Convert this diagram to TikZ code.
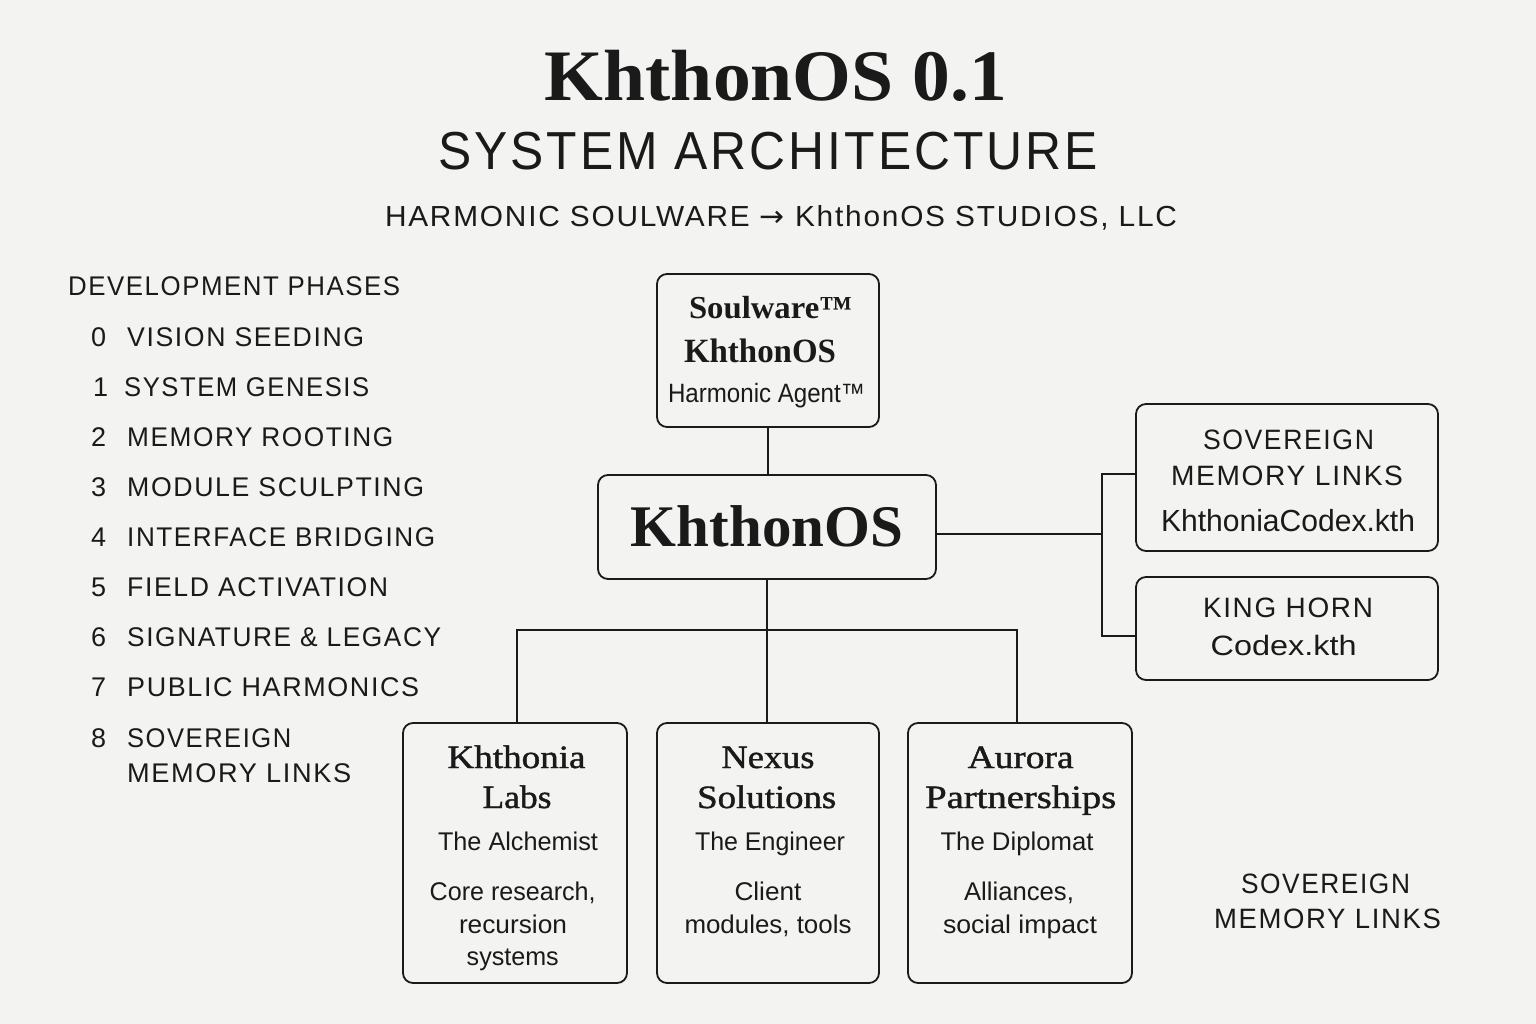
\documentclass[tikz,border=0pt]{standalone}
\usepackage{fontspec}
\usepackage{graphicx}
\setmainfont{Liberation Serif}
\newfontfamily\medserif[FakeBold=1.2]{Liberation Serif}
\newfontfamily\capsf[LetterSpace=6]{Liberation Sans}
\newfontfamily\plainsf{Liberation Sans}
\newfontfamily\symf{DejaVu Sans}
\definecolor{bgc}{HTML}{F3F3F1}
\definecolor{ink}{HTML}{1A1A1A}
\newcommand{\tx}[2]{\resizebox{#1pt}{\height}{#2}}
\newcommand{\fs}[1]{\fontsize{#1pt}{#1pt}\selectfont}
\tikzset{
  box/.style={draw=ink, line width=1.8pt, rounded corners=10pt, fill=bgc, inner sep=0pt},
  link/.style={draw=ink, line width=1.8pt},
  lbl/.style={anchor=base, inner sep=0pt, text=ink},
  lbll/.style={anchor=base west, inner sep=0pt, text=ink},
}
\begin{document}
\begin{tikzpicture}[x=1pt,y=-1pt]
\fill[bgc] (0,0) rectangle (1536,1024);
\useasboundingbox (0,0) rectangle (1536,1024);

% titles
\node[lbl] (title) at (776,101) {\fs{72.5}\bfseries\tx{462}{KhthonOS 0.1}};
\node[lbl] (sub1) at (768,170) {\fs{53.5}\capsf\tx{660}{SYSTEM ARCHITECTURE}};
\node[lbl] (sub2) at (781,227) {\fs{29}\capsf\tx{792}{HARMONIC SOULWARE {\symf→} KhthonOS STUDIOS, LLC}};

% left list
\node[lbll] (dev) at (68,295.5) {\fs{27}\capsf\tx{332}{DEVELOPMENT PHASES}};
\node[lbll] (n0) at (91,346) {\fs{27}\capsf 0};
\node[lbll] (p0) at (127,346) {\fs{27}\capsf\tx{237}{VISION SEEDING}};
\node[lbll] (n1) at (93,396) {\fs{27}\capsf 1};
\node[lbll] (p1) at (124,396) {\fs{27}\capsf\tx{245}{SYSTEM GENESIS}};
\node[lbll] (n2) at (91,446) {\fs{27}\capsf 2};
\node[lbll] (p2) at (127,446) {\fs{27}\capsf\tx{266}{MEMORY ROOTING}};
\node[lbll] (n3) at (91,496) {\fs{27}\capsf 3};
\node[lbll] (p3) at (127,496) {\fs{27}\capsf\tx{297}{MODULE SCULPTING}};
\node[lbll] (n4) at (91,546) {\fs{27}\capsf 4};
\node[lbll] (p4) at (127,546) {\fs{27}\capsf\tx{308}{INTERFACE BRIDGING}};
\node[lbll] (n5) at (91,596) {\fs{27}\capsf 5};
\node[lbll] (p5) at (127,596) {\fs{27}\capsf\tx{261}{FIELD ACTIVATION}};
\node[lbll] (n6) at (91,646) {\fs{27}\capsf 6};
\node[lbll] (p6) at (127,646) {\fs{27}\capsf\tx{314}{SIGNATURE \& LEGACY}};
\node[lbll] (n7) at (91,696) {\fs{27}\capsf 7};
\node[lbll] (p7) at (127,696) {\fs{27}\capsf\tx{292}{PUBLIC HARMONICS}};
\node[lbll] (n8) at (91,747) {\fs{27}\capsf 8};
\node[lbll] (p8) at (127,747) {\fs{27}\capsf\tx{164}{SOVEREIGN}};
\node[lbll] (p8b) at (127,782) {\fs{27}\capsf\tx{224}{MEMORY LINKS}};

% boxes
\node[box, minimum width=222pt, minimum height=153pt] (top) at (768,350.5) {};
\node[box, minimum width=338pt, minimum height=104pt] (core) at (767,527) {};
\node[box, minimum width=302pt, minimum height=147pt] (r1) at (1287,477.5) {};
\node[box, minimum width=302pt, minimum height=103pt] (r2) at (1287,628.5) {};
\node[box, minimum width=224pt, minimum height=260pt] (b1) at (515,853) {};
\node[box, minimum width=222pt, minimum height=260pt] (b2) at (768,853) {};
\node[box, minimum width=224pt, minimum height=260pt] (b3) at (1020,853) {};

% top box text
\node[lbl] (t1) at (770.5,318) {\fs{32}\bfseries\tx{163}{Soulware™}};
\node[lbl] (t2) at (760,362.5) {\fs{34}\bfseries\tx{152}{KhthonOS}};
\node[lbl] (t3) at (766.5,402.5) {\fs{26.5}\plainsf\tx{197}{Harmonic Agent™}};

% core text
\node[lbl] (c1) at (767,546) {\fs{59}\bfseries\tx{272}{KhthonOS}};

% right boxes text
\node[lbl] (r1a) at (1288.5,449) {\fs{28}\capsf\tx{171}{SOVEREIGN}};
\node[lbl] (r1b) at (1287,485.5) {\fs{28}\capsf\tx{232}{MEMORY LINKS}};
\node[lbl] (r1c) at (1288,531) {\fs{30.5}\plainsf\tx{254}{KhthoniaCodex.kth}};
\node[lbl] (r2a) at (1288,617.5) {\fs{28}\capsf\tx{170}{KING HORN}};
\node[lbl] (r2b) at (1283.7,655) {\fs{28}\plainsf\tx{146}{Codex.kth}};

% bottom boxes text
\node[lbl] (k1) at (516.5,768) {\fs{32.6}\medserif\tx{138}{Khthonia}};
\node[lbl] (k2) at (517,808) {\fs{32.6}\medserif\tx{69}{Labs}};
\node[lbl] (k3) at (518,850) {\fs{25.6}\plainsf\tx{160}{The Alchemist}};
\node[lbl] (k4) at (512.7,900) {\fs{25.6}\plainsf\tx{166}{Core research,}};
\node[lbl] (k5) at (513,933) {\fs{25.6}\plainsf\tx{108}{recursion}};
\node[lbl] (k6) at (512.7,965) {\fs{25.6}\plainsf\tx{92}{systems}};

\node[lbl] (x1) at (768,768) {\fs{32.6}\medserif\tx{93}{Nexus}};
\node[lbl] (x2) at (766.7,808) {\fs{32.6}\medserif\tx{139}{Solutions}};
\node[lbl] (x3) at (770,850) {\fs{25.6}\plainsf\tx{150}{The Engineer}};
\node[lbl] (x4) at (768,900) {\fs{25.6}\plainsf\tx{67}{Client}};
\node[lbl] (x5) at (768,933) {\fs{25.6}\plainsf\tx{167}{modules, tools}};

\node[lbl] (a1) at (1020.6,768) {\fs{32.6}\medserif\tx{106}{Aurora}};
\node[lbl] (a2) at (1020.7,808) {\fs{32.6}\medserif\tx{191}{Partnerships}};
\node[lbl] (a3) at (1017,850) {\fs{25.6}\plainsf\tx{153}{The Diplomat}};
\node[lbl] (a4) at (1019,900) {\fs{25.6}\plainsf\tx{110}{Alliances,}};
\node[lbl] (a5) at (1020,933) {\fs{25.6}\plainsf\tx{154}{social impact}};

% bottom right
\node[lbl] (s1) at (1325.5,893) {\fs{28}\capsf\tx{169}{SOVEREIGN}};
\node[lbl] (s2) at (1327.5,928) {\fs{28}\capsf\tx{227}{MEMORY LINKS}};

% connectors
\coordinate (bus) at (767,630);
\coordinate (rj) at (1102,534);
\coordinate (ce) at ([yshift=-7pt]core.east);
\coordinate (r1w) at ([yshift=3.5pt]r1.west);
\coordinate (r2w) at ([yshift=-7.5pt]r2.west);
\draw[link] (top.south) -- (top.south |- core.north);
\draw[link] (core.south) -- (bus);
\draw[link] ([xshift=2pt]b1.north) |- (bus) -| ([xshift=-3pt]b3.north);
\draw[link] (bus) -- (bus |- b2.north);
\draw[link] (ce) -- (rj);
\draw[link] (r1w) -| (rj) |- (r2w);
\end{tikzpicture}
\end{document}
